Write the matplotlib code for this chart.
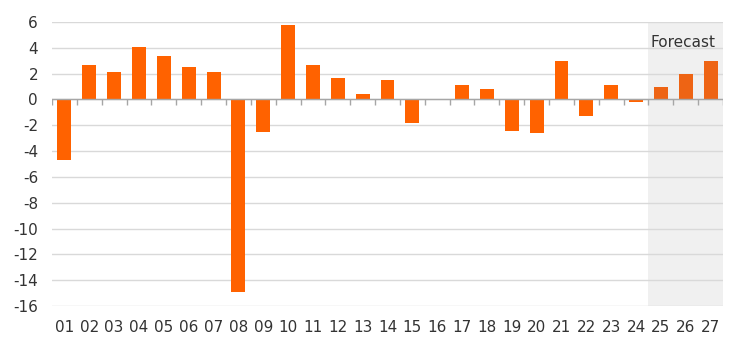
import numpy as np
import matplotlib
matplotlib.use("Agg")
import matplotlib.pyplot as plt

plt.rcParams['font.family'] = ['DejaVu Sans']
plt.rcParams['axes.unicode_minus'] = False

labels = ["01", "02", "03", "04", "05", "06", "07", "08", "09", "10",
          "11", "12", "13", "14", "15", "16", "17", "18", "19", "20",
          "21", "22", "23", "24", "25", "26", "27"]
values = [-4.65, 2.7, 2.1, 4.1, 3.4, 2.5, 2.1, -14.9, -2.5, 5.8,
          2.65, 1.7, 0.4, 1.5, -1.85, 0.0, 1.1, 0.85, -2.45, -2.6,
          3.0, -1.3, 1.1, -0.2, 1.0, 1.95, 2.95]
n_forecast = 3

fig = plt.figure(figsize=(7.45, 3.51), dpi=100)
ax = fig.add_axes([0.0698, 0.128, 0.9007, 0.8093])

x = np.arange(len(labels))
n_hist = len(labels) - n_forecast
colors = ["#FF6200"] * n_hist + ["#EE6414"] * n_forecast

ax.axvspan(n_hist - 0.5, len(labels) - 0.5, color="#F0F0F0", zorder=0, lw=0)
ax.text(n_hist + 0.9, 4.45, "Forecast", ha="center", va="center",
        fontsize=11, color="#333333")

ax.bar(x, values, width=0.56, color=colors, zorder=3)

ax.set_xlim(-0.5, len(labels) - 0.5)
ax.set_ylim(-16, 6)
ax.set_yticks(np.arange(-16, 7, 2))
ax.yaxis.grid(True, color="#D9D9D9", lw=1, zorder=1)
ax.set_axisbelow(True)

ax.axhline(0, color="#A6A6A6", lw=1, zorder=4)
ax.vlines(np.arange(len(labels) + 1) - 0.5, -0.45, 0, color="#A6A6A6",
          lw=1, zorder=4)

ax.set_xticks(x)
ax.set_xticklabels(labels)
ax.tick_params(axis="both", length=0, labelsize=11, colors="#333333")
ax.tick_params(axis="x", pad=10)
ax.tick_params(axis="y", pad=10)
for lbl in ax.get_yticklabels():
    lbl.set_horizontalalignment("right")

for s in ax.spines.values():
    s.set_visible(False)

fig.savefig("out.png", dpi=100)
